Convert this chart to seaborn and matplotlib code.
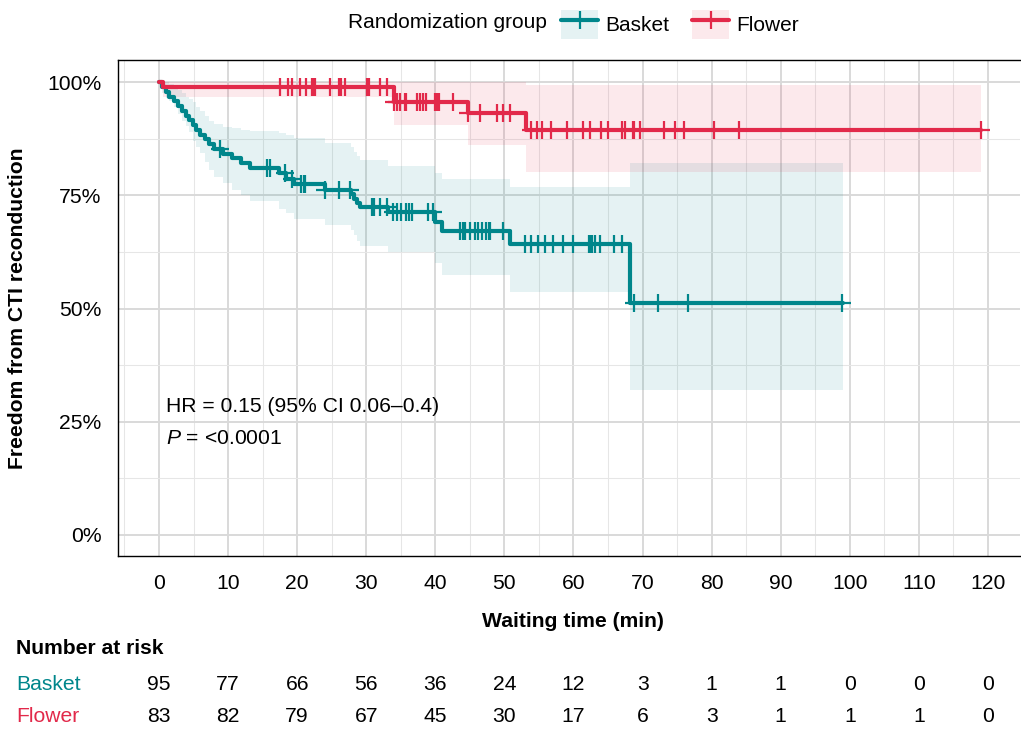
import numpy as np
import pandas as pd
import matplotlib
matplotlib.use("Agg")
import matplotlib.pyplot as plt
import matplotlib.transforms as mtransforms
import seaborn as sns
from matplotlib.patches import Patch
from matplotlib.lines import Line2D
from matplotlib.legend_handler import HandlerTuple
from matplotlib.ticker import FixedLocator, MultipleLocator

# ---------------- data ----------------
basket_t = [0, 0.5, 1.0, 1.5, 2.1, 2.7, 3.3, 3.9, 4.4, 4.9, 5.4, 6.0, 6.6, 7.2, 7.9,
            9.3, 10.6, 11.8, 13.2, 17.3, 18.4, 19.6, 24.0, 27.8, 28.2, 28.7, 29.1,
            33.2, 40.0, 40.9, 50.8, 68.2, 99.0]
basket_s = [1.0, 0.989, 0.979, 0.968, 0.958, 0.947, 0.937, 0.926, 0.916, 0.905, 0.895,
            0.884, 0.874, 0.863, 0.853, 0.842, 0.832, 0.821, 0.811, 0.800, 0.786, 0.775,
            0.762, 0.752, 0.742, 0.733, 0.724, 0.713, 0.692, 0.671, 0.642, 0.513, 0.513]
basket_hi = [1.0, 1.0, 1.0, 0.995, 0.99, 0.982, 0.975, 0.968, 0.962, 0.955, 0.945,
             0.935, 0.925, 0.915, 0.908, 0.90, 0.898, 0.895, 0.892, 0.888, 0.882, 0.877,
             0.865, 0.856, 0.846, 0.837, 0.828, 0.815, 0.80, 0.785, 0.768, 0.822, 0.822]
basket_lo = [1.0, 0.975, 0.965, 0.957, 0.945, 0.93, 0.915, 0.903, 0.89, 0.87, 0.857,
             0.843, 0.824, 0.805, 0.79, 0.778, 0.762, 0.75, 0.738, 0.72, 0.71, 0.697,
             0.684, 0.673, 0.662, 0.65, 0.638, 0.624, 0.600, 0.575, 0.536, 0.32, 0.32]
basket_censor = [8.8, 15.6, 16.1, 18.3, 19.3, 20.6, 21.0, 21.2, 24.0, 26.0, 27.7, 30.8,
                 31.1, 32.0, 33.0, 33.9, 34.4, 35.1, 35.8, 36.2, 36.6, 39.0, 39.7, 43.6,
                 44.0, 44.3, 45.0, 45.7, 46.2, 46.7, 47.4, 47.7, 47.9, 49.8, 53.0, 53.9,
                 54.9, 55.9, 57.1, 58.5, 60.0, 62.3, 62.5, 62.7, 63.1, 63.8, 65.8, 67.0,
                 68.7, 72.3, 76.6, 98.9]

flower_t = [0, 0.6, 34.0, 44.8, 53.1, 119.0]
flower_s = [1.0, 0.988, 0.955, 0.931, 0.894, 0.894]
flower_hi = [1.0, 1.0, 1.0, 1.0, 0.993, 0.993]
flower_lo = [1.0, 0.966, 0.905, 0.862, 0.802, 0.802]
flower_censor = [17.5, 18.7, 19.3, 20.4, 21.3, 22.2, 22.4, 22.6, 24.8, 26.0, 26.4, 26.9,
                 30.1, 30.4, 32.0, 33.0, 34.0, 34.4, 34.9, 35.6, 35.8, 37.3, 37.8, 38.2,
                 38.7, 39.9, 40.2, 40.5, 42.6, 44.8, 46.5, 48.9, 49.8, 50.8, 53.9, 54.7,
                 55.5, 56.8, 59.0, 61.4, 62.4, 64.0, 65.0, 67.0, 67.4, 68.6, 68.8, 69.6,
                 73.1, 74.7, 76.0, 80.3, 83.9, 119.0]

risk_times = [0, 10, 20, 30, 40, 50, 60, 70, 80, 90, 100, 110, 120]
risk_basket = [95, 77, 66, 56, 36, 24, 12, 3, 1, 1, 0, 0, 0]
risk_flower = [83, 82, 79, 67, 45, 30, 17, 6, 3, 1, 1, 1, 0]

groups = ["Basket", "Flower"]
y_ticks = [0, 0.25, 0.5, 0.75, 1.0]
y_ticklabels = ["0%", "25%", "50%", "75%", "100%"]
x_ticks = [0, 10, 20, 30, 40, 50, 60, 70, 80, 90, 100, 110, 120]

hr_text = "HR = 0.15 (95% CI 0.06\u20130.4)"
p_text = r"$\mathit{P}$ = <0.0001"

# ---------------- style ----------------
sns.set_theme(style="white")
plt.rcParams["font.family"] = ["Liberation Sans", "DejaVu Sans"]
plt.rcParams["mathtext.fontset"] = "custom"
plt.rcParams["mathtext.rm"] = "Liberation Sans"
plt.rcParams["mathtext.it"] = "Liberation Sans:italic"
plt.rcParams["text.color"] = "black"
plt.rcParams["axes.labelcolor"] = "black"

TEAL = "#00868B"
RED = "#E2294A"
colors = {"Basket": TEAL, "Flower": RED}
FS = 15.2
LFS = 15.0

W, H = 1021, 729
fig = plt.figure(figsize=(W / 100, H / 100), dpi=100)
ax = fig.add_axes([118 / W, 1 - 555.7 / H, 902 / W, (555.7 - 60) / H])

ax.set_xlim(-5.94, 124.64)
ax.set_ylim(-0.0457, 1.0486)

# grid
ax.xaxis.set_major_locator(FixedLocator(x_ticks))
ax.xaxis.set_minor_locator(MultipleLocator(5))
ax.yaxis.set_major_locator(FixedLocator(y_ticks))
ax.yaxis.set_minor_locator(MultipleLocator(0.125))
ax.grid(which="major", color="#D9D9D9", linewidth=1.4)
ax.grid(which="minor", color="#E6E6E6", linewidth=0.75)
ax.set_axisbelow(True)

# ---------------- curves ----------------
def step_value(ts, vs, c):
    idx = np.searchsorted(np.asarray(ts), c, side="right") - 1
    return float(np.asarray(vs)[idx])

series = {
    "Basket": (basket_t, basket_s, basket_lo, basket_hi, basket_censor),
    "Flower": (flower_t, flower_s, flower_lo, flower_hi, flower_censor),
}

for g in groups:
    t, s, lo, hi, cens = series[g]
    ax.fill_between(t, lo, hi, step="post", color=colors[g], alpha=0.1, linewidth=0,
                    zorder=2)

for g in groups:
    t, s, lo, hi, cens = series[g]
    df = pd.DataFrame({"time": t, "surv": s})
    sns.lineplot(data=df, x="time", y="surv", ax=ax, color=colors[g], linewidth=3,
                 drawstyle="steps-post", estimator=None, sort=False, zorder=3)
    cdf = pd.DataFrame({"time": cens, "surv": [step_value(t, s, c) for c in cens]})
    sns.scatterplot(data=cdf, x="time", y="surv", ax=ax, marker="+", s=13 ** 2,
                    color=colors[g], linewidth=1.6, zorder=4)

# ---------------- axes ----------------
ax.set_yticklabels(y_ticklabels)
ax.set_xticklabels([str(v) for v in x_ticks])
ax.tick_params(axis="both", which="major", length=5, width=1.1, color="black",
               labelsize=FS, labelcolor="black", direction="out")
ax.tick_params(axis="x", which="major", pad=8)
ax.tick_params(axis="y", which="major", pad=7)
ax.tick_params(which="minor", length=0)
ax.set_xlabel("")
ax.set_ylabel("")
for name, sp in ax.spines.items():
    sp.set_color("black")
    sp.set_linewidth(1.0)
    sp.set_visible(name != "right")

fig.text(573 / W, 1 - 621.7 / H, "Waiting time (min)", ha="center", va="center",
         fontsize=FS, fontweight="bold")
fig.text(18 / W, 1 - 308 / H, "Freedom from CTI reconduction", ha="center",
         va="center", rotation=90, fontsize=FS, fontweight="bold")

ax.text(0.95, 0.2826, hr_text, ha="left", va="center", fontsize=FS)
ax.text(0.95, 0.2135, p_text, ha="left", va="center", fontsize=FS)

# ---------------- legend ----------------
fig.text(347.7 / W, 1 - 22.5 / H, "Randomization group", ha="left", va="center",
         fontsize=LFS)
handles = []
for g in groups:
    handles.append((Patch(facecolor=colors[g], alpha=0.1, edgecolor="none"),
                    Line2D([], [], color=colors[g], linewidth=3, marker="+",
                           markersize=13, markeredgewidth=1.6)))
fig.legend(handles, groups, handler_map={tuple: HandlerTuple(ndivide=1)},
           loc="center left", bbox_to_anchor=(561 / W, 1 - 24.3 / H),
           bbox_transform=fig.transFigure, ncol=2, frameon=False, fontsize=LFS,
           handlelength=1.78, handleheight=1.78, handletextpad=0.34,
           columnspacing=1.1, borderpad=0, borderaxespad=0)

# ---------------- risk table ----------------
fig.text(16 / W, 1 - 649 / H, "Number at risk", ha="left", va="center",
         fontsize=FS, fontweight="bold")
trans = mtransforms.blended_transform_factory(ax.transData, fig.transFigure)
rows = {"Basket": (risk_basket, 1 - 684 / H), "Flower": (risk_flower, 1 - 717 / H)}
for g in groups:
    vals, yy = rows[g]
    fig.text(16 / W, yy, g, ha="left", va="center", fontsize=FS, color=colors[g])
    for tt, v in zip(risk_times, vals):
        ax.text(tt, yy, str(v), transform=trans, ha="center", va="center",
                fontsize=FS, color="black", clip_on=False)

fig.savefig("out.png", dpi=100)
